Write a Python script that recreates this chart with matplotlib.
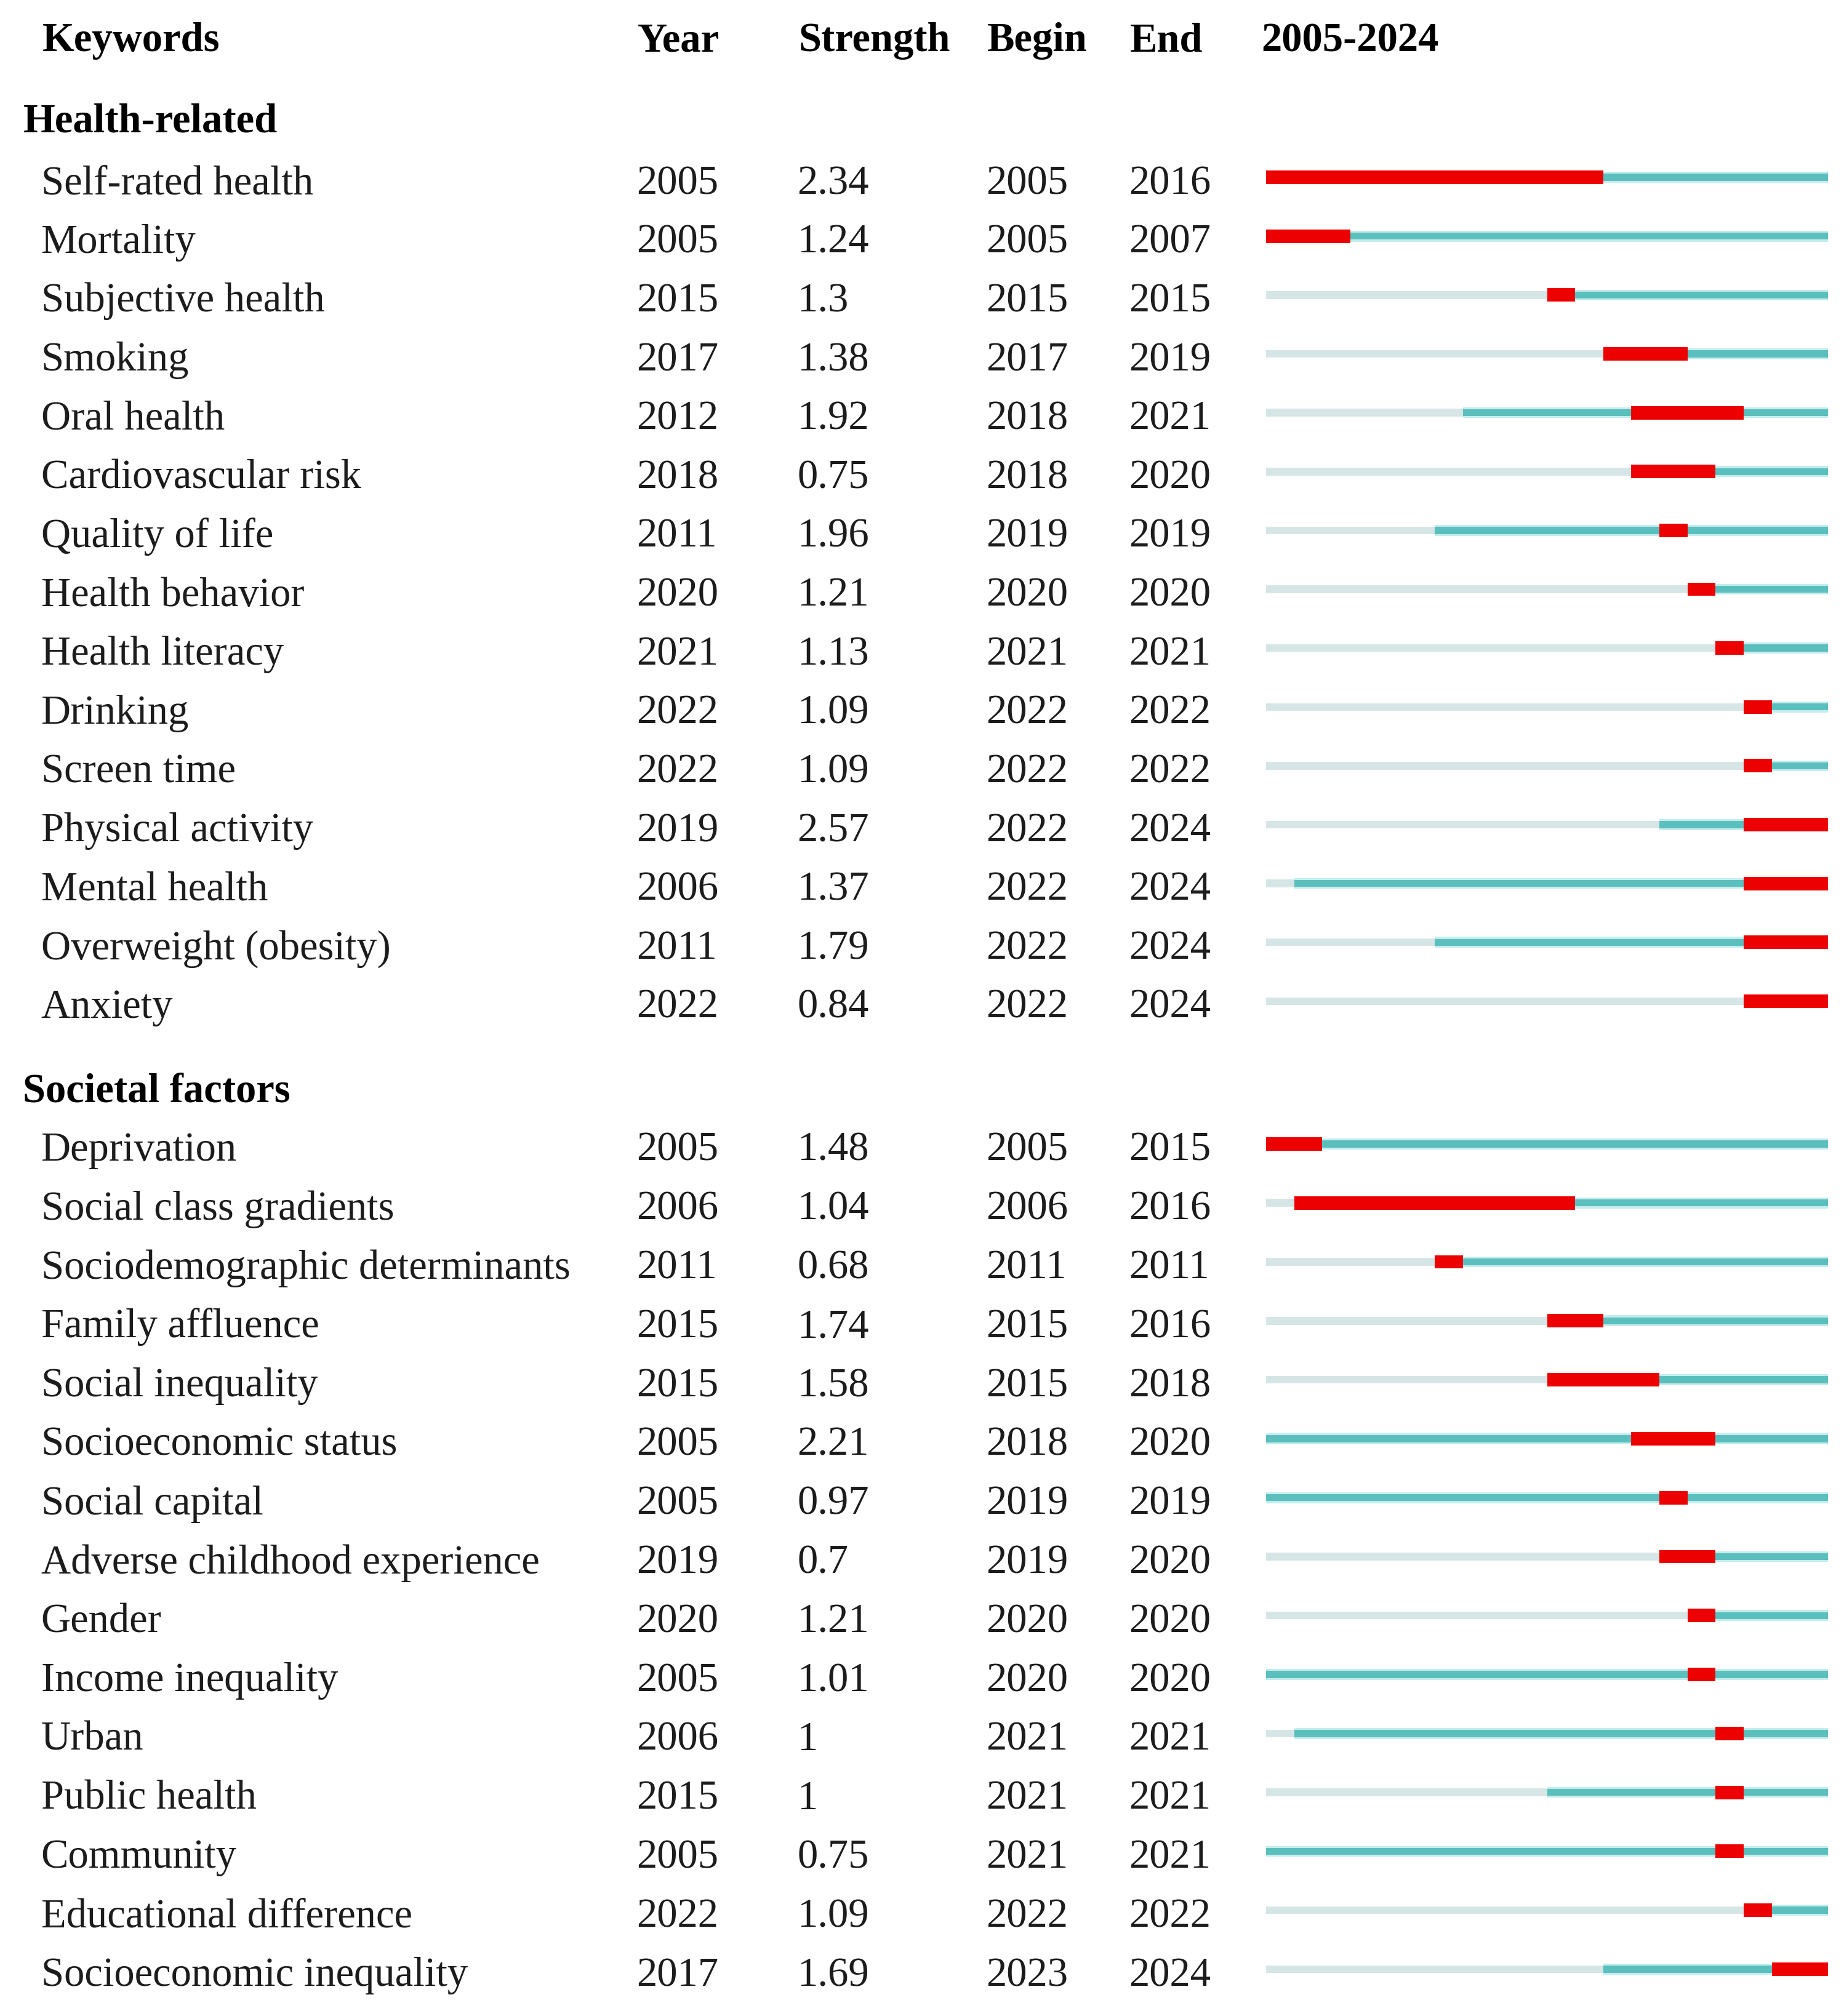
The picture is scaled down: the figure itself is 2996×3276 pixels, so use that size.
import matplotlib.pyplot as plt

plt.rcParams['font.family'] = ['Liberation Serif', 'DejaVu Serif']

# ---- data -------------------------------------------------------------
first_year, last_year = 2005, 2024

health_keywords = ['Self-rated health', 'Mortality', 'Subjective health', 'Smoking',
                   'Oral health', 'Cardiovascular risk', 'Quality of life',
                   'Health behavior', 'Health literacy', 'Drinking', 'Screen time',
                   'Physical activity', 'Mental health', 'Overweight (obesity)', 'Anxiety']
health_year = [2005, 2005, 2015, 2017, 2012, 2018, 2011, 2020, 2021, 2022, 2022,
               2019, 2006, 2011, 2022]
health_strength = [2.34, 1.24, 1.3, 1.38, 1.92, 0.75, 1.96, 1.21, 1.13, 1.09, 1.09,
                   2.57, 1.37, 1.79, 0.84]
health_begin = [2005, 2005, 2015, 2017, 2018, 2018, 2019, 2020, 2021, 2022, 2022,
                2022, 2022, 2022, 2022]
health_end = [2016, 2007, 2015, 2019, 2021, 2020, 2019, 2020, 2021, 2022, 2022,
              2024, 2024, 2024, 2024]
# burst bars as drawn in the timeline
health_bar_begin = health_begin
health_bar_end = health_end

society_keywords = ['Deprivation', 'Social class gradients', 'Sociodemographic determinants',
                    'Family affluence', 'Social inequality', 'Socioeconomic status',
                    'Social capital', 'Adverse childhood experience', 'Gender',
                    'Income inequality', 'Urban', 'Public health', 'Community',
                    'Educational difference', 'Socioeconomic inequality']
society_year = [2005, 2006, 2011, 2015, 2015, 2005, 2005, 2019, 2020, 2005, 2006,
                2015, 2005, 2022, 2017]
society_strength = [1.48, 1.04, 0.68, 1.74, 1.58, 2.21, 0.97, 0.7, 1.21, 1.01, 1,
                    1, 0.75, 1.09, 1.69]
society_begin = [2005, 2006, 2011, 2015, 2015, 2018, 2019, 2019, 2020, 2020, 2021,
                 2021, 2021, 2022, 2023]
society_end = [2015, 2016, 2011, 2016, 2018, 2020, 2019, 2020, 2020, 2020, 2021,
               2021, 2021, 2022, 2024]
society_bar_begin = society_begin
society_bar_end = [2006, 2015, 2011, 2016, 2018, 2020, 2019, 2020, 2020, 2020, 2021,
                   2021, 2021, 2022, 2024]

groups = [
    ('Health-related', health_keywords, health_year, health_strength,
     health_begin, health_end, health_bar_begin, health_bar_end),
    ('Societal factors', society_keywords, society_year, society_strength,
     society_begin, society_end, society_bar_begin, society_bar_end),
]

# ---- layout -----------------------------------------------------------
W, H = 1440, 1574.6          # working units (scaled picture)
header_y = 30
section_y = [93, 850.5]
row_start = [141.5, 896.5]
row_step = [45.96, 46.04]

col_x = {'kw': 32, 'sec': 18, 'year': 497, 'strength': 622.5, 'begin': 770,
         'end': 881.5, 'range': 984}
bar_x0, bar_x1 = 988.7, 1427.5

red = '#ec0000'
teal = '#5bbfbe'
halo = '#c4ecec'
grey = '#d6e6e6'

fig = plt.figure(figsize=(29.96, 32.76), dpi=100)
ax = fig.add_axes([0, 0, 1, 1])
per_px = (last_year + 1 - first_year) / (bar_x1 - bar_x0)
ax.set_xlim(first_year - bar_x0 * per_px, first_year + (W - bar_x0) * per_px)
ax.set_ylim(H, 0)
ax.axis('off')

tr = ax.get_yaxis_transform()
fs = 48
cap = 10  # half cap height, used to put baseline under row centre


def put(xpx, y, s, bold=False, color='#1c1c1c'):
    ax.text(xpx / W, y + cap, s, transform=tr, fontsize=fs, va='baseline', ha='left',
            fontweight='bold' if bold else 'normal', color=color)


for xk, lab in [('kw', 'Keywords'), ('year', 'Year'), ('strength', 'Strength'),
                ('begin', 'Begin'), ('end', 'End'), ('range', '2005-2024')]:
    put(col_x[xk] + 1, header_y, lab, bold=True, color='black')

end_edge = last_year + 1
for g, (title, kws, yrs, strs, begs, ends, bb, be) in enumerate(groups):
    put(col_x['sec'], section_y[g], title, bold=True, color='black')
    for i, kw in enumerate(kws):
        y = row_start[g] + i * row_step[g]
        put(col_x['kw'], y, kw)
        put(col_x['year'], y, str(yrs[i]))
        put(col_x['strength'], y, '{:g}'.format(strs[i]))
        put(col_x['begin'], y, str(begs[i]))
        put(col_x['end'], y, str(ends[i]))

        yb = y - 3
        if yrs[i] > first_year:
            ax.barh(yb, yrs[i] - first_year, left=first_year, height=6,
                    color=grey, linewidth=0)
        ax.barh(yb, end_edge - yrs[i], left=yrs[i], height=8.5, color=halo, linewidth=0)
        ax.barh(yb, end_edge - yrs[i], left=yrs[i], height=5.5, color=teal, linewidth=0)
        ax.barh(yb, be[i] + 1 - bb[i], left=bb[i], height=10.5, color=red, linewidth=0)

fig.savefig('out.png', dpi=100, facecolor='white')
